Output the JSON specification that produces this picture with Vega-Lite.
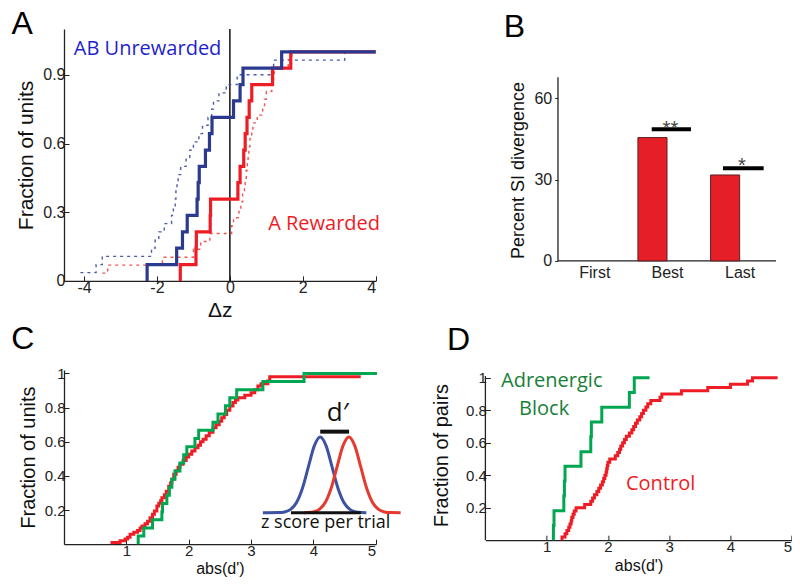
{
  "$schema": "https://vega.github.io/schema/vega-lite/v6.json",
  "background": "white",
  "padding": {"left": 11, "top": 7, "right": 0, "bottom": 0},
  "bounds": "flush",
  "columns": 2,
  "spacing": {"row": 89, "column": 109.4},
  "config": {
    "view": {"stroke": null},
    "axis": {"grid": false, "domainColor": "#222", "tickColor": "#222", "labelColor": "#222", "titleColor": "#111", "labelFont": "Liberation Sans", "titleFont": "Liberation Sans", "titleFontWeight": "normal", "domainWidth": 1.3, "tickWidth": 1}
  },
  "datasets": {
    "A_blue_solid": [
      {"x": -2.27, "y": 0}, {"x": -2.27, "y": 0.071}, {"x": -1.46, "y": 0.143}, {"x": -1.3, "y": 0.214}, {"x": -1.17, "y": 0.286}, {"x": -0.9, "y": 0.357}, {"x": -0.87, "y": 0.429}, {"x": -0.84, "y": 0.5}, {"x": -0.67, "y": 0.571}, {"x": -0.56, "y": 0.643}, {"x": -0.49, "y": 0.714}, {"x": 0.1, "y": 0.786}, {"x": 0.28, "y": 0.857}, {"x": 0.36, "y": 0.929}, {"x": 1.42, "y": 1.0}, {"x": 4.0, "y": 1.0}
    ],
    "A_red_solid": [
      {"x": -1.36, "y": 0}, {"x": -1.36, "y": 0.071}, {"x": -0.93, "y": 0.143}, {"x": -0.92, "y": 0.214}, {"x": -0.54, "y": 0.286}, {"x": -0.53, "y": 0.357}, {"x": 0.22, "y": 0.429}, {"x": 0.28, "y": 0.5}, {"x": 0.38, "y": 0.571}, {"x": 0.42, "y": 0.643}, {"x": 0.47, "y": 0.714}, {"x": 0.53, "y": 0.786}, {"x": 0.6, "y": 0.857}, {"x": 1.17, "y": 0.929}, {"x": 1.67, "y": 1.0}, {"x": 4.0, "y": 1.0}
    ],
    "A_blue_dash": [
      {"x": -4.1, "y": 0.036}, {"x": -3.67, "y": 0.071}, {"x": -3.5, "y": 0.107}, {"x": -2.15, "y": 0.143}, {"x": -2.05, "y": 0.179}, {"x": -1.95, "y": 0.214}, {"x": -1.8, "y": 0.25}, {"x": -1.6, "y": 0.286}, {"x": -1.55, "y": 0.321}, {"x": -1.5, "y": 0.357}, {"x": -1.48, "y": 0.393}, {"x": -1.45, "y": 0.429}, {"x": -1.42, "y": 0.464}, {"x": -1.35, "y": 0.5}, {"x": -1.2, "y": 0.536}, {"x": -1.1, "y": 0.571}, {"x": -1.0, "y": 0.607}, {"x": -0.85, "y": 0.643}, {"x": -0.75, "y": 0.679}, {"x": -0.6, "y": 0.714}, {"x": -0.5, "y": 0.75}, {"x": -0.45, "y": 0.786}, {"x": -0.3, "y": 0.821}, {"x": -0.1, "y": 0.857}, {"x": 0.2, "y": 0.9}, {"x": 1.2, "y": 0.964}, {"x": 3.15, "y": 1.0}, {"x": 4.0, "y": 1.0}
    ],
    "A_red_dash": [
      {"x": -3.5, "y": 0.034}, {"x": -3.35, "y": 0.069}, {"x": -1.85, "y": 0.103}, {"x": -1.0, "y": 0.138}, {"x": -0.8, "y": 0.172}, {"x": -0.55, "y": 0.207}, {"x": 0.05, "y": 0.241}, {"x": 0.1, "y": 0.276}, {"x": 0.25, "y": 0.31}, {"x": 0.3, "y": 0.345}, {"x": 0.35, "y": 0.379}, {"x": 0.4, "y": 0.414}, {"x": 0.42, "y": 0.448}, {"x": 0.45, "y": 0.483}, {"x": 0.48, "y": 0.517}, {"x": 0.5, "y": 0.552}, {"x": 0.52, "y": 0.586}, {"x": 0.55, "y": 0.621}, {"x": 0.6, "y": 0.655}, {"x": 0.63, "y": 0.69}, {"x": 0.75, "y": 0.724}, {"x": 0.9, "y": 0.759}, {"x": 0.95, "y": 0.793}, {"x": 1.0, "y": 0.828}, {"x": 1.15, "y": 0.862}, {"x": 1.2, "y": 0.897}, {"x": 1.22, "y": 0.931}, {"x": 1.6, "y": 0.966}, {"x": 1.7, "y": 1.0}, {"x": 4.0, "y": 1.0}
    ],
    "A_zero": [{"x": 0, "y": 0, "y2": 1.1}],
    "A_letter": [{"x": -5.7, "y": 1.122, "t": "A"}],
    "A_blue_text": [{"x": -4.28, "y": 1.013, "t": "AB Unrewarded"}],
    "A_red_text": [{"x": 1.05, "y": 0.249, "t": "A Rewarded"}],
    "B_bars": [
      {"cond": "First", "x": 0.6, "x2": 1.0, "y": 0, "y0": 0},
      {"cond": "Best", "x": 1.6, "x2": 2.0, "y": 45.5, "y0": 0},
      {"cond": "Last", "x": 2.6, "x2": 3.0, "y": 31.7, "y0": 0}
    ],
    "B_sig": [
      {"x": 1.79, "x2": 2.33, "y": 48.6},
      {"x": 2.77, "x2": 3.33, "y": 34.2}
    ],
    "B_stars": [
      {"x": 2.047, "y": 46.6, "t": "**"},
      {"x": 3.03, "y": 32.9, "t": "*"}
    ],
    "B_yaxis": [{"x": 0.5, "y": 0, "y2": 67.8}],
    "B_xaxis": [{"x": 0.5, "x2": 3.5, "y": 0}],
    "B_letter": [{"x": -0.1, "y": 86.4, "t": "B"}],
    "C_red": [
      {"x": 0.77, "y": 0}, {"x": 0.77, "y": 0.01}, {"x": 0.9, "y": 0.02}, {"x": 0.98, "y": 0.03}, {"x": 1.02, "y": 0.04}, {"x": 1.06, "y": 0.058}, {"x": 1.12, "y": 0.07}, {"x": 1.18, "y": 0.08}, {"x": 1.22, "y": 0.095}, {"x": 1.25, "y": 0.107}, {"x": 1.3, "y": 0.12}, {"x": 1.34, "y": 0.135}, {"x": 1.38, "y": 0.155}, {"x": 1.42, "y": 0.175}, {"x": 1.45, "y": 0.195}, {"x": 1.49, "y": 0.224}, {"x": 1.52, "y": 0.24}, {"x": 1.55, "y": 0.255}, {"x": 1.57, "y": 0.272}, {"x": 1.61, "y": 0.29}, {"x": 1.64, "y": 0.31}, {"x": 1.68, "y": 0.34}, {"x": 1.71, "y": 0.36}, {"x": 1.73, "y": 0.38}, {"x": 1.76, "y": 0.409}, {"x": 1.8, "y": 0.43}, {"x": 1.83, "y": 0.45}, {"x": 1.86, "y": 0.468}, {"x": 1.91, "y": 0.49}, {"x": 1.96, "y": 0.51}, {"x": 2.0, "y": 0.526}, {"x": 2.05, "y": 0.545}, {"x": 2.1, "y": 0.565}, {"x": 2.15, "y": 0.58}, {"x": 2.19, "y": 0.6}, {"x": 2.23, "y": 0.614}, {"x": 2.28, "y": 0.635}, {"x": 2.33, "y": 0.655}, {"x": 2.39, "y": 0.682}, {"x": 2.44, "y": 0.7}, {"x": 2.49, "y": 0.72}, {"x": 2.53, "y": 0.741}, {"x": 2.57, "y": 0.76}, {"x": 2.61, "y": 0.785}, {"x": 2.66, "y": 0.809}, {"x": 2.71, "y": 0.83}, {"x": 2.75, "y": 0.845}, {"x": 2.79, "y": 0.858}, {"x": 2.9, "y": 0.872}, {"x": 3.0, "y": 0.887}, {"x": 3.06, "y": 0.905}, {"x": 3.11, "y": 0.926}, {"x": 3.16, "y": 0.94}, {"x": 3.27, "y": 0.955}, {"x": 3.3, "y": 0.98}, {"x": 4.76, "y": 0.98}
    ],
    "C_green": [
      {"x": 1.19, "y": 0}, {"x": 1.19, "y": 0.048}, {"x": 1.28, "y": 0.095}, {"x": 1.42, "y": 0.143}, {"x": 1.57, "y": 0.19}, {"x": 1.58, "y": 0.238}, {"x": 1.65, "y": 0.286}, {"x": 1.69, "y": 0.333}, {"x": 1.73, "y": 0.381}, {"x": 1.78, "y": 0.429}, {"x": 1.86, "y": 0.476}, {"x": 1.92, "y": 0.524}, {"x": 1.97, "y": 0.571}, {"x": 2.1, "y": 0.619}, {"x": 2.16, "y": 0.667}, {"x": 2.39, "y": 0.714}, {"x": 2.47, "y": 0.762}, {"x": 2.59, "y": 0.81}, {"x": 2.66, "y": 0.857}, {"x": 2.77, "y": 0.905}, {"x": 3.19, "y": 0.952}, {"x": 3.85, "y": 1.0}, {"x": 5.02, "y": 1.0}
    ],
    "C_gauss_blue": [
      {"x": 3.19, "y": 0.184}, {"x": 3.445, "y": 0.185}, {"x": 3.54, "y": 0.189}, {"x": 3.635, "y": 0.2035}, {"x": 3.73, "y": 0.244}, {"x": 3.825, "y": 0.328}, {"x": 3.92, "y": 0.453}, {"x": 4.015, "y": 0.576}, {"x": 4.11, "y": 0.628}, {"x": 4.205, "y": 0.576}, {"x": 4.3, "y": 0.453}, {"x": 4.395, "y": 0.328}, {"x": 4.49, "y": 0.244}, {"x": 4.585, "y": 0.2035}, {"x": 4.68, "y": 0.189}, {"x": 4.775, "y": 0.185}, {"x": 4.85, "y": 0.184}
    ],
    "C_gauss_red": [
      {"x": 3.85, "y": 0.184}, {"x": 3.905, "y": 0.185}, {"x": 4.0, "y": 0.189}, {"x": 4.095, "y": 0.2035}, {"x": 4.19, "y": 0.244}, {"x": 4.285, "y": 0.328}, {"x": 4.38, "y": 0.453}, {"x": 4.475, "y": 0.576}, {"x": 4.57, "y": 0.628}, {"x": 4.665, "y": 0.576}, {"x": 4.76, "y": 0.453}, {"x": 4.855, "y": 0.328}, {"x": 4.95, "y": 0.244}, {"x": 5.045, "y": 0.2035}, {"x": 5.14, "y": 0.189}, {"x": 5.235, "y": 0.185}, {"x": 5.4, "y": 0.184}
    ],
    "C_base": [{"x": 3.64, "x2": 4.76, "y": 0.184}],
    "C_dbar": [{"x": 4.11, "x2": 4.573, "y": 0.659}],
    "C_dlabel": [{"x": 4.39, "y": 0.77, "t": "d′"}],
    "C_zlabel": [{"x": 3.16, "y": 0.126, "t": "z score per trial"}],
    "C_letter": [{"x": -0.66, "y": 1.204, "t": "C"}],
    "D_red": [
      {"x": 1.25, "y": 0}, {"x": 1.25, "y": 0.02}, {"x": 1.3, "y": 0.04}, {"x": 1.33, "y": 0.06}, {"x": 1.36, "y": 0.08}, {"x": 1.38, "y": 0.1}, {"x": 1.4, "y": 0.12}, {"x": 1.41, "y": 0.14}, {"x": 1.43, "y": 0.16}, {"x": 1.45, "y": 0.18}, {"x": 1.48, "y": 0.2}, {"x": 1.62, "y": 0.22}, {"x": 1.72, "y": 0.24}, {"x": 1.75, "y": 0.26}, {"x": 1.78, "y": 0.28}, {"x": 1.82, "y": 0.3}, {"x": 1.85, "y": 0.32}, {"x": 1.88, "y": 0.34}, {"x": 1.91, "y": 0.36}, {"x": 1.93, "y": 0.38}, {"x": 1.95, "y": 0.4}, {"x": 1.97, "y": 0.42}, {"x": 1.98, "y": 0.44}, {"x": 1.99, "y": 0.46}, {"x": 2.0, "y": 0.48}, {"x": 2.03, "y": 0.5}, {"x": 2.12, "y": 0.52}, {"x": 2.16, "y": 0.54}, {"x": 2.19, "y": 0.56}, {"x": 2.21, "y": 0.58}, {"x": 2.24, "y": 0.6}, {"x": 2.27, "y": 0.62}, {"x": 2.3, "y": 0.64}, {"x": 2.35, "y": 0.66}, {"x": 2.39, "y": 0.68}, {"x": 2.42, "y": 0.7}, {"x": 2.45, "y": 0.72}, {"x": 2.48, "y": 0.74}, {"x": 2.52, "y": 0.76}, {"x": 2.55, "y": 0.78}, {"x": 2.58, "y": 0.8}, {"x": 2.62, "y": 0.82}, {"x": 2.65, "y": 0.84}, {"x": 2.7, "y": 0.86}, {"x": 2.85, "y": 0.88}, {"x": 2.88, "y": 0.9}, {"x": 3.2, "y": 0.92}, {"x": 3.63, "y": 0.94}, {"x": 4.0, "y": 0.96}, {"x": 4.28, "y": 0.98}, {"x": 4.36, "y": 1.0}, {"x": 4.77, "y": 1.0}
    ],
    "D_green": [
      {"x": 1.11, "y": 0}, {"x": 1.11, "y": 0.091}, {"x": 1.12, "y": 0.182}, {"x": 1.28, "y": 0.273}, {"x": 1.29, "y": 0.364}, {"x": 1.3, "y": 0.455}, {"x": 1.56, "y": 0.545}, {"x": 1.72, "y": 0.636}, {"x": 1.73, "y": 0.727}, {"x": 1.9, "y": 0.818}, {"x": 2.35, "y": 0.909}, {"x": 2.43, "y": 1.0}, {"x": 2.68, "y": 1.0}
    ],
    "D_yaxis": [{"x": 0, "y": 0, "y2": 1.01}],
    "D_green_text": [{"x": 0.255, "y": 0.98, "t": "Adrenergic"}, {"x": 0.55, "y": 0.807, "t": "Block"}],
    "D_red_text": [{"x": 2.295, "y": 0.346, "t": "Control"}],
    "D_letter": [{"x": -0.44, "y": 1.232, "t": "D"}]
  },
  "concat": [
    {
      "width": 311.7,
      "height": 251.9,
      "encoding": {
        "x": {"field": "x", "type": "quantitative", "scale": {"domain": [-4.55, 4], "nice": false, "zero": false},
          "axis": {"title": "Δz", "values": [-4, -2, 0, 2, 4], "labelExpr": "'' + datum.value", "tickSize": -5, "labelPadding": 4, "labelFontSize": 16, "labelFont": "Liberation Sans Narrow, Liberation Sans", "titleFontSize": 21, "titlePadding": 4}},
        "y": {"field": "y", "type": "quantitative", "scale": {"domain": [0, 1.1], "nice": false, "zero": false},
          "axis": {"title": "Fraction of units", "values": [0, 0.3, 0.6, 0.9], "format": ".1~f", "tickSize": -5, "labelPadding": 4, "labelFontSize": 16, "labelFont": "Liberation Sans Narrow, Liberation Sans", "titleFontSize": 21, "titlePadding": 6}}
      },
      "layer": [
        {"data": {"name": "A_zero"}, "mark": {"type": "rule", "color": "#111", "strokeWidth": 1.5}, "encoding": {"y2": {"field": "y2"}}},
        {"data": {"name": "A_blue_dash"}, "mark": {"type": "line", "interpolate": "step-after", "color": "#4d5aa8", "strokeWidth": 1.4, "strokeDash": [3, 4]}},
        {"data": {"name": "A_red_dash"}, "mark": {"type": "line", "interpolate": "step-after", "color": "#f05555", "strokeWidth": 1.4, "strokeDash": [3, 4]}},
        {"data": {"name": "A_red_solid"}, "mark": {"type": "line", "interpolate": "step-after", "color": "#ee1c25", "strokeWidth": 3.2}},
        {"data": {"name": "A_blue_solid"}, "mark": {"type": "line", "interpolate": "step-after", "color": "#2b3a8f", "strokeWidth": 3.2}},
        {"data": {"name": "A_letter"}, "mark": {"type": "text", "font": "Liberation Sans", "fontSize": 32, "align": "center", "baseline": "middle", "color": "black"}, "encoding": {"text": {"field": "t"}}},
        {"data": {"name": "A_blue_text"}, "mark": {"type": "text", "font": "Open Sans", "fontSize": 20, "align": "left", "baseline": "middle", "color": "#1f1fcc"}, "encoding": {"text": {"field": "t"}}},
        {"data": {"name": "A_red_text"}, "mark": {"type": "text", "font": "Open Sans", "fontSize": 20, "align": "left", "baseline": "middle", "color": "#ee1c25"}, "encoding": {"text": {"field": "t"}}}
      ]
    },
    {
      "width": 290.6,
      "height": 231.9,
      "encoding": {
        "x": {"field": "x", "type": "quantitative", "scale": {"domain": [-0.4986, 3.5], "nice": false, "zero": false},
          "axis": {"title": null, "values": [1, 2, 3], "labelExpr": "datum.value == 1 ? 'First' : datum.value == 2 ? 'Best' : 'Last'", "ticks": false, "domain": false, "labelPadding": 4, "labelFontSize": 16}},
        "y": {"field": "y", "type": "quantitative", "scale": {"domain": [0, 85.56], "nice": false, "zero": false},
          "axis": {"title": "Percent SI divergence", "values": [0, 30, 60], "domain": false, "offset": -72.3, "tickSize": 3, "labelPadding": 3, "labelFontSize": 16, "titleFontSize": 18, "titlePadding": 6, "titleY": 141}}
      },
      "layer": [
        {"data": {"name": "B_yaxis"}, "mark": {"type": "rule", "color": "#222", "strokeWidth": 1.3}, "encoding": {"y2": {"field": "y2"}}},
        {"data": {"name": "B_xaxis"}, "mark": {"type": "rule", "color": "#222", "strokeWidth": 1.3}, "encoding": {"x2": {"field": "x2"}}},
        {"data": {"name": "B_bars"}, "mark": {"type": "bar", "color": "#e61e27", "stroke": "#5a2020", "strokeWidth": 1}, "encoding": {"x2": {"field": "x2"}, "y2": {"field": "y0"}, "strokeOpacity": {"condition": {"test": "datum.y == 0", "value": 0}, "value": 1}, "fillOpacity": {"condition": {"test": "datum.y == 0", "value": 0}, "value": 1}}},
        {"data": {"name": "B_sig"}, "mark": {"type": "rule", "color": "black", "strokeWidth": 4}, "encoding": {"x2": {"field": "x2"}}},
        {"data": {"name": "B_stars"}, "mark": {"type": "text", "font": "Liberation Sans", "fontSize": 20, "align": "center", "baseline": "alphabetic", "color": "#444"}, "encoding": {"text": {"field": "t"}}},
        {"data": {"name": "B_letter"}, "mark": {"type": "text", "font": "Liberation Sans", "fontSize": 32, "align": "center", "baseline": "middle", "color": "black"}, "encoding": {"text": {"field": "t"}}}
      ]
    },
    {
      "width": 311.7,
      "height": 174.2,
      "encoding": {
        "x": {"field": "x", "type": "quantitative", "scale": {"domain": [0, 5], "nice": false, "zero": false},
          "axis": {"title": "abs(d')", "values": [1, 2, 3, 4, 5], "tickSize": -5, "labelPadding": 4, "labelFontSize": 15, "labelFont": "Liberation Sans Narrow, Liberation Sans", "titleFontSize": 16, "titlePadding": 2}},
        "y": {"field": "y", "type": "quantitative", "scale": {"domain": [0, 1.02], "nice": false, "zero": false},
          "axis": {"title": "Fraction of units", "values": [0.2, 0.4, 0.6, 0.8, 1], "format": ".1~f", "tickSize": -5, "labelPadding": 4, "labelFontSize": 15, "labelFont": "Liberation Sans Narrow, Liberation Sans", "titleFontSize": 20, "titlePadding": 6}}
      },
      "layer": [
        {"data": {"name": "C_red"}, "mark": {"type": "line", "interpolate": "step-after", "color": "#ee1c25", "strokeWidth": 3}},
        {"data": {"name": "C_green"}, "mark": {"type": "line", "interpolate": "step-after", "color": "#00a650", "strokeWidth": 3}},
        {"data": {"name": "C_gauss_blue"}, "mark": {"type": "line", "interpolate": "monotone", "color": "#3d52a1", "strokeWidth": 3}},
        {"data": {"name": "C_gauss_red"}, "mark": {"type": "line", "interpolate": "monotone", "color": "#e53a2f", "strokeWidth": 3}},
        {"data": {"name": "C_base"}, "mark": {"type": "rule", "color": "#111", "strokeWidth": 3}, "encoding": {"x2": {"field": "x2"}}},
        {"data": {"name": "C_dbar"}, "mark": {"type": "rule", "color": "#111", "strokeWidth": 4}, "encoding": {"x2": {"field": "x2"}}},
        {"data": {"name": "C_dlabel"}, "mark": {"type": "text", "font": "Open Sans", "fontSize": 26, "align": "center", "baseline": "middle", "color": "#111"}, "encoding": {"text": {"field": "t"}}},
        {"data": {"name": "C_zlabel"}, "mark": {"type": "text", "font": "Open Sans", "fontSize": 18, "align": "left", "baseline": "middle", "color": "#111"}, "encoding": {"text": {"field": "t"}}},
        {"data": {"name": "C_letter"}, "mark": {"type": "text", "font": "Liberation Sans", "fontSize": 32, "align": "center", "baseline": "middle", "color": "black"}, "encoding": {"text": {"field": "t"}}}
      ]
    },
    {
      "width": 306.3,
      "height": 170.2,
      "encoding": {
        "x": {"field": "x", "type": "quantitative", "scale": {"domain": [0, 5], "nice": false, "zero": false},
          "axis": {"title": "abs(d')", "values": [1, 2, 3, 4, 5], "tickSize": -5, "labelPadding": 4, "labelFontSize": 15, "labelFont": "Liberation Sans Narrow, Liberation Sans", "titleFontSize": 16, "titlePadding": 3}},
        "y": {"field": "y", "type": "quantitative", "scale": {"domain": [0, 1.0474], "nice": false, "zero": false},
          "axis": {"title": "Fraction of pairs", "values": [0.2, 0.4, 0.6, 0.8, 1], "format": ".1~f", "domain": false, "tickSize": -5, "labelPadding": 4, "labelFontSize": 15, "labelFont": "Liberation Sans Narrow, Liberation Sans", "titleFontSize": 20, "titlePadding": 14}}
      },
      "layer": [
        {"data": {"name": "D_yaxis"}, "mark": {"type": "rule", "color": "#222", "strokeWidth": 1.3}, "encoding": {"y2": {"field": "y2"}}},
        {"data": {"name": "D_red"}, "mark": {"type": "line", "interpolate": "step-after", "color": "#ee1c25", "strokeWidth": 3}},
        {"data": {"name": "D_green"}, "mark": {"type": "line", "interpolate": "step-after", "color": "#00a650", "strokeWidth": 3}},
        {"data": {"name": "D_green_text"}, "mark": {"type": "text", "font": "Open Sans", "fontSize": 20, "align": "left", "baseline": "middle", "color": "#19803a"}, "encoding": {"text": {"field": "t"}}},
        {"data": {"name": "D_red_text"}, "mark": {"type": "text", "font": "Open Sans", "fontSize": 20, "align": "left", "baseline": "middle", "color": "#ee1c25"}, "encoding": {"text": {"field": "t"}}},
        {"data": {"name": "D_letter"}, "mark": {"type": "text", "font": "Liberation Sans", "fontSize": 32, "align": "center", "baseline": "middle", "color": "black"}, "encoding": {"text": {"field": "t"}}}
      ]
    }
  ]
}
